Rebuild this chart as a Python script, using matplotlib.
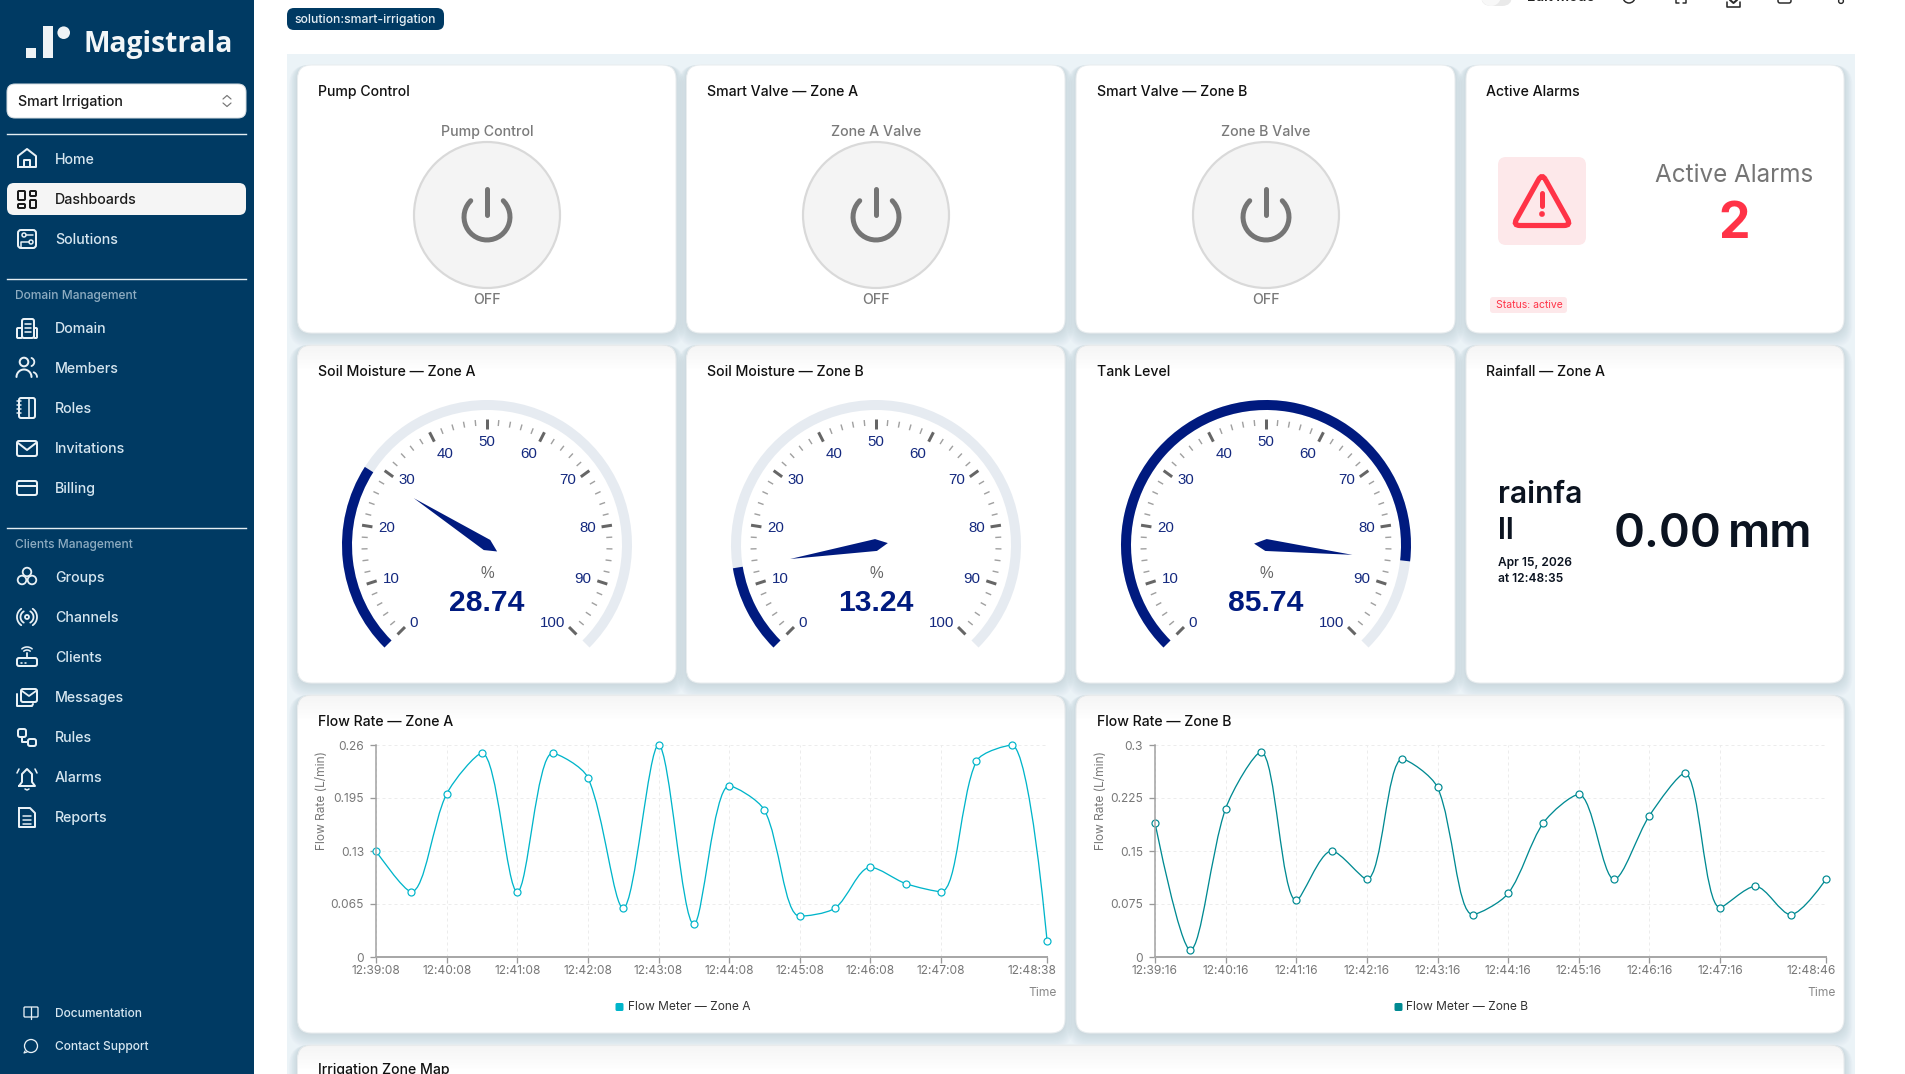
import numpy as np
import matplotlib
matplotlib.use("Agg")
from matplotlib import pyplot as plt
from matplotlib.patches import FancyBboxPatch, Circle, Wedge, Polygon, Rectangle, PathPatch
from matplotlib.path import Path
from matplotlib.transforms import ScaledTranslation

plt.rcParams['font.family'] = ['Inter', 'DejaVu Sans']

W, H = 1905, 1074

# data
flow_a = [0.13, 0.08, 0.20, 0.25, 0.08, 0.25, 0.22, 0.06, 0.26, 0.04,
          0.21, 0.18, 0.05, 0.06, 0.11, 0.09, 0.08, 0.24, 0.26, 0.02]
flow_b = [0.19, 0.01, 0.21, 0.29, 0.08, 0.15, 0.11, 0.28, 0.24, 0.06,
          0.09, 0.19, 0.23, 0.11, 0.20, 0.26, 0.07, 0.10, 0.06, 0.11]
tick_idx = [0, 2, 4, 6, 8, 10, 12, 14, 16, 19]
labels_a = ['12:39:08', '12:40:08', '12:41:08', '12:42:08', '12:43:08',
            '12:44:08', '12:45:08', '12:46:08', '12:47:08', '12:48:38']
labels_b = ['12:39:16', '12:40:16', '12:41:16', '12:42:16', '12:43:16',
            '12:44:16', '12:45:16', '12:46:16', '12:47:16', '12:48:46']
yticks_a = [0, 0.065, 0.13, 0.195, 0.26]
yticks_b = [0, 0.075, 0.15, 0.225, 0.3]
ylabels_a = ['0', '0.065', '0.13', '0.195', '0.26']
ylabels_b = ['0', '0.075', '0.15', '0.225', '0.3']
gauge_titles = ['Soil Moisture — Zone A', 'Soil Moisture — Zone B', 'Tank Level']
gauge_values = [28.74, 13.24, 85.74]
gauge_scale = [0, 10, 20, 30, 40, 50, 60, 70, 80, 90, 100]
switch_titles = ['Pump Control', 'Smart Valve — Zone A', 'Smart Valve — Zone B']
switch_labels = ['Pump Control', 'Zone A Valve', 'Zone B Valve']
nav_items = [('Home', 160), ('Dashboards', 200), ('Solutions', 240),
             ('Domain', 329), ('Members', 369), ('Roles', 409), ('Invitations', 449), ('Billing', 489),
             ('Groups', 578), ('Channels', 618), ('Clients', 658), ('Messages', 698),
             ('Rules', 738), ('Alarms', 778), ('Reports', 818)]

NAVY = '#003a63'
GAUGE = '#001a7f'
GAUGE_TXT = '#14297f'
RED = '#ff3347'
PINK = '#fde8ea'
ICON = '#e9f1f6'
CARD_X = [297.5, 686.5, 1076, 1466]
TITLE_X = [318, 707, 1097, 1486]
CENTERS = [487, 876, 1266]
CARD_W = 379
DY = 0  # shift for the icon being drawn


def pt(px):
    return px * 0.72


fig = plt.figure(figsize=(W / 100, H / 100), dpi=100, facecolor='white')
bg = fig.add_axes([0, 0, 1, 1])
bg.set_xlim(0, W)
bg.set_ylim(H, 0)
bg.axis('off')


def rrect(x, y, w, h, r, fc='none', ec='none', lw=0, z=1, alpha=None):
    p = FancyBboxPatch((x, y + DY), w, h, boxstyle="round,pad=0,rounding_size=%g" % r,
                       fc=fc, ec=ec, lw=pt(lw), zorder=z, alpha=alpha)
    bg.add_patch(p)
    return p


def poly(pts, c=ICON, lw=2, z=5, closed=False):
    xs = [q[0] for q in pts]
    ys = [q[1] + DY for q in pts]
    if closed:
        xs.append(xs[0])
        ys.append(ys[0])
    bg.plot(xs, ys, color=c, lw=pt(lw), zorder=z, solid_capstyle='round', solid_joinstyle='round')


def circ(x, y, r, fc='none', ec=ICON, lw=2, z=5):
    bg.add_patch(Circle((x, y + DY), r, fc=fc, ec=ec, lw=pt(lw), zorder=z))


def arc(x, y, r, a1, a2, c=ICON, lw=2, z=5):
    # angles in screen sense, y axis is flipped
    t = np.radians(np.linspace(a1, a2, 30))
    bg.plot(x + r * np.cos(t), y + DY - r * np.sin(t), color=c, lw=pt(lw), zorder=z, solid_capstyle='round')


def txt(x, y, s, size, c='#111111', ha='left', va='center', weight='normal', family=None, z=6, **kw):
    if family:
        kw['family'] = family
    return bg.text(x, y, s, fontsize=pt(size), color=c, ha=ha, va=va, weight=weight, zorder=z, **kw)


def round_tri(pts, rad, c, lw, z=5):
    # triangle outline with rounded corners
    pts = [np.array(q, float) for q in pts]
    verts, codes = [], []
    for i in range(3):
        p, a, b = pts[i], pts[i - 1], pts[(i + 1) % 3]
        ua = (a - p) / np.hypot(*(a - p))
        ub = (b - p) / np.hypot(*(b - p))
        verts += [p + ua * rad, p, p + ub * rad]
        codes += [Path.MOVETO if i == 0 else Path.LINETO, Path.CURVE3, Path.CURVE3]
    verts.append(verts[0])
    codes.append(Path.LINETO)
    bg.add_patch(PathPatch(Path(verts, codes), fc='none', ec=c, lw=pt(lw), zorder=z))


# ---- sidebar
bg.add_patch(Rectangle((0, 0), 254, H, fc=NAVY, ec='none', zorder=1))
bg.add_patch(Rectangle((26, 47.5), 10, 10.5, fc='#eef3f6', ec='none', zorder=2))
bg.add_patch(Rectangle((43, 26), 10, 32, fc='#eef3f6', ec='none', zorder=2))
bg.add_patch(Circle((63.7, 32.7), 6.3, fc='#eef3f6', ec='none', zorder=2))
txt(84, 52, 'Magistrala', 28.2, c='#f2f6f8', weight='bold', family='Open Sans', va='baseline')

rrect(7, 84, 239, 34, 8, fc='white', ec='#d7dee3', lw=1, z=2)
txt(18, 102, 'Smart Irrigation', 14.2, c='#1a1a1a', weight='medium')
poly([(223, 99), (227, 95.5), (231, 99)], c='#777777', lw=1.2)
poly([(223, 103), (227, 106.5), (231, 103)], c='#777777', lw=1.2)
for ly in [134, 279, 528]:
    bg.plot([7, 246], [ly, ly], color='#e4edf2', lw=pt(1.4), zorder=2)

rrect(7, 183, 239, 32, 7, fc='#f5f5f5', z=2)
for name, y in nav_items:
    txt(55, y, name, 14.2, c='#1c1c1c' if name == 'Dashboards' else '#d6e6f0', weight='medium')
txt(15, 296, 'Domain Management', 12, c='#8eacc1', weight='medium')
txt(15, 545, 'Clients Management', 12, c='#8eacc1', weight='medium')
txt(55, 1014, 'Documentation', 12, c='#d6e6f0', weight='medium')
txt(55, 1047, 'Contact Support', 12, c='#d6e6f0', weight='medium')

# icons, one by one
DY = 5
poly([(18, 162), (18, 151), (27, 144), (36, 151), (36, 162)], closed=True)
poly([(24, 162), (24, 155), (30, 155), (30, 162)])
DY = 7
for r in [(18, 184, 7, 9), (30, 184, 6, 5), (18, 197, 7, 4), (30, 193, 6, 8)]:
    rrect(r[0], r[1], r[2], r[3], 1, ec='#1a1a1a', lw=2, z=5)
DY = 8
rrect(18, 222, 18, 18, 3, ec=ICON, lw=2, z=5)
circ(24, 227, 2, lw=1.5)
circ(31, 234, 2, lw=1.5)
poly([(26, 227), (33, 227)], lw=1.5)
poly([(21, 239), (21, 234), (29, 234)], lw=1.5)
# domain
DY = 11
rrect(22, 308, 12, 19, 2, ec=ICON, lw=2, z=5)
rrect(17, 317, 5, 10, 1, ec=ICON, lw=2, z=5)
rrect(34, 317, 3, 10, 1, ec=ICON, lw=2, z=5)
for yy in [313, 317, 321]:
    poly([(25, yy), (31, yy)], lw=1.6)
# members
DY = 12
circ(24, 350, 4.3)
arc(30, 350, 4.3, -70, 70, lw=1.8)
arc(24, 365, 7.5, 0, 180)
arc(32, 365, 5, 0, 70, lw=1.8)
# roles
DY = 13
rrect(19, 385, 16, 20, 2, ec=ICON, lw=2, z=5)
poly([(29, 385), (29, 405)], lw=1.6)
for yy in [388, 392, 396, 400]:
    poly([(17, yy), (21, yy)], lw=1.5)
# invitations
DY = 15
rrect(17, 426, 20, 15, 2, ec=ICON, lw=2, z=5)
poly([(18, 428), (27, 435), (36, 428)])
# billing
DY = 16
rrect(17, 465, 20, 14, 2, ec=ICON, lw=2, z=5)
poly([(17, 470), (37, 470)])
# groups
DY = 5
circ(27, 567, 4.3, lw=1.8)
circ(22, 575, 4.3, lw=1.8)
circ(32, 575, 4.3, lw=1.8)
# channels
DY = 8
circ(27, 609, 2, lw=1.8)
arc(27, 609, 6.5, 120, 240, lw=1.8)
arc(27, 609, 6.5, -60, 60, lw=1.8)
arc(27, 609, 10, 125, 235, lw=1.8)
arc(27, 609, 10, -55, 55, lw=1.8)
# clients
DY = 11
rrect(17, 647, 20, 8, 2, ec=ICON, lw=2, z=5)
poly([(27, 647), (27, 642)], lw=1.8)
arc(27, 644, 5, 50, 130, lw=1.6)
arc(27, 644, 8, 50, 130, lw=1.6)
poly([(21, 651.5), (21.5, 651.5)], lw=1.6)
poly([(25, 651.5), (25.5, 651.5)], lw=1.6)
# messages
DY = 14
rrect(21, 675, 16, 13, 2, ec=ICON, lw=2, z=5)
poly([(22, 677), (29, 682), (36, 677)], lw=1.8)
poly([(17, 680), (17, 692), (32, 692), (33, 690)], lw=2)
# rules
DY = 17
rrect(18, 712, 8, 8, 2, ec=ICON, lw=2, z=5)
rrect(28, 722, 8, 7, 2, ec=ICON, lw=2, z=5)
poly([(22, 720), (22, 725), (28, 725)], lw=2)
# alarms
DY = 20
poly([(19, 766), (22, 762), (22, 754), (27, 749), (32, 754), (32, 762), (35, 766)], lw=2, closed=True)
poly([(25, 769), (27, 770), (29, 769)], lw=1.6)
poly([(17, 753), (19, 749)], lw=1.6)
poly([(37, 753), (35, 749)], lw=1.6)
# reports
DY = 23
poly([(19, 785), (30, 785), (35, 790), (35, 804), (19, 804)], closed=True)
for yy in [793, 797, 801]:
    poly([(23, yy), (31, yy)], lw=1.5)
# docs and support
DY = 36
rrect(24, 971, 14, 10, 1, ec=ICON, lw=1.3, z=5)
poly([(31, 971), (31, 983)], lw=1.3)
DY = 39
circ(31, 1007, 6.5, lw=1.3)
poly([(25, 1012), (24, 1014), (27, 1013)], lw=1.2)
DY = 0

# ---- top bar
rrect(287, 8, 157, 22, 7, fc=NAVY, z=2)
txt(365.5, 20, 'solution:smart-irrigation', 12.2, c='#e6eff5', ha='center', weight='medium')
rrect(1481, -14, 31, 20, 10, fc='#e9e9e9', z=2)
circ(1491, -4, 10, fc='#f8f8f8', ec='none', lw=0)
txt(1527, -3, 'Edit Mode', 14, c='#222222', weight='semibold')
DK = '#2a2a2a'
circ(1629, -3, 6, ec=DK, lw=1.5)
poly([(1676, 0), (1676, 3), (1679, 3)], c=DK, lw=1.5)
poly([(1686, 0), (1686, 3), (1683, 3)], c=DK, lw=1.5)
poly([(1727, 2), (1727, 7), (1740, 7), (1740, 2)], c=DK, lw=1.6)
poly([(1730, 0), (1733.5, 3), (1737, 0)], c=DK, lw=2)
rrect(1778, -10, 13, 13, 2, ec=DK, lw=1.5, z=5)
circ(1841, 1, 2.4, ec=DK, lw=1.4)
bg.plot([1904.5, 1904.5], [0, H], color='#c9c9c9', lw=pt(1), zorder=2)

# ---- panel and cards
bg.add_patch(Rectangle((287, 54), 1568, H - 54, fc='#ebf3f7', ec='none', zorder=1))


def card(x, y, w, h, fade=True):
    for k in range(12):
        s = 1 + k
        rrect(x - s * 0.7, y, w + 1.4 * s, h + s * 1.2, 14 + s * 0.5, fc='#5a6f7d', z=1.5, alpha=0.014)
    c = rrect(x, y, w, h, 14, fc='white', ec='#e9edef', lw=1, z=2)
    if fade:
        # grey fade on the top edge of lower rows
        for k in range(16):
            s = bg.add_patch(Rectangle((x, y + k * 1.5), w, 1.5, fc='#707070', ec='none', zorder=2.1,
                                       alpha=0.07 * (1 - k / 16.0)))
            s.set_clip_path(c)
    return c


for x in CARD_X:
    card(x, 65, CARD_W - (1 if x == 1466 else 0) - (0.5 if x < 1000 else 0), 268, fade=False)
for x in CARD_X:
    card(x, 345, CARD_W - (1 if x == 1466 else 0) - (0.5 if x < 1000 else 0), 338)
card(297.5, 695, 767.5, 338)
card(1076, 695, 768, 338)
card(297.5, 1045, 1546.5, 60)

# ---- switch cards
for i in range(3):
    cx = CENTERS[i]
    txt(TITLE_X[i], 92, switch_titles[i], 14.1, weight='medium')
    txt(cx, 132, switch_labels[i], 14.2, c='#7a7a7a', ha='center', weight='medium')
    txt(cx, 300, 'OFF', 14.2, c='#7a7a7a', ha='center', weight='medium')
    circ(cx, 215, 73, fc='#f4f4f4', ec='#d9d9d9', lw=2.2, z=3)
    arc(cx, 217, 23, 135, 405, c='#757575', lw=5)
    poly([(cx, 189), (cx, 215)], c='#757575', lw=5)

# ---- alarm card
txt(TITLE_X[3], 92, 'Active Alarms', 14.1, weight='medium')
rrect(1498, 157, 88, 88, 8, fc=PINK, z=3)
round_tri([(1542, 173.5), (1513, 225.5), (1571, 225.5)], 7, RED, 5.2)
poly([(1542, 193), (1542, 206)], c=RED, lw=5)
circ(1542, 214, 2.6, fc=RED, ec=RED, lw=0.5)
txt(1734, 175, 'Active Alarms', 24.2, c='#757575', ha='center')
txt(1734, 238, '2', 50, c=RED, ha='center', weight='bold', va='baseline')
rrect(1490, 297, 77, 16, 3, fc=PINK, z=3)
txt(1496, 305.5, 'Status: active', 10.4, c=RED)

# ---- rainfall card
txt(TITLE_X[3], 372, 'Rainfall — Zone A', 14.1, weight='medium')
txt(1498, 503, 'rainfa', 30, c='#0b1320', weight='semibold', va='baseline')
txt(1498, 539, 'll', 30, c='#0b1320', weight='semibold', va='baseline')
txt(1498, 566, 'Apr 15, 2026', 12, c='#0b1320', weight='semibold', va='baseline')
txt(1498, 582, 'at 12:48:35', 12, c='#0b1320', weight='semibold', va='baseline')
txt(1614, 547, '0.00', 47, c='#0b1320', weight='semibold', va='baseline')
txt(1728, 547, 'mm', 47, c='#0b1320', weight='semibold', va='baseline')


# ---- gauges
def gauge(cx, cy, title, title_x, value):
    txt(title_x, 372, title, 14.1, weight='medium')
    ax = fig.add_axes([(cx - 150) / W, 1 - (cy + 150) / H, 300 / W, 300 / H], zorder=3)
    ax.set_xlim(-150, 150)
    ax.set_ylim(-150, 150)
    ax.axis('off')
    ang = 225 - 2.7 * value
    ax.add_patch(Wedge((0, 0), 145, -45, 225, width=10, fc='#e6ebf1', ec='none'))
    ax.add_patch(Wedge((0, 0), 145, ang, 225, width=10, fc=GAUGE, ec='none'))
    for v in range(0, 101, 2):
        a = np.radians(225 - 2.7 * v)
        if v % 10 == 0:
            r0, r1, c, w = 116, 126.5, '#666666', 3
        else:
            r0, r1, c, w = 119.5, 125.5, '#a0a0a0', 1.4
        ax.plot([r0 * np.cos(a), r1 * np.cos(a)], [r0 * np.sin(a), r1 * np.sin(a)],
                color=c, lw=pt(w), solid_capstyle='butt')
    for v in gauge_scale:
        a = np.radians(225 - 2.7 * v)
        cs, sn = np.cos(a), np.sin(a)
        ha = 'left' if cs < -0.4 else ('right' if cs > 0.4 else 'center')
        va = 'top' if sn > 0.8 else 'center'
        ax.text(110 * cs, 110 * sn, str(v), fontsize=pt(15), color=GAUGE_TXT, ha=ha, va=va,
                family='Liberation Sans')
    a = np.radians(ang)
    u = np.array([np.cos(a), np.sin(a)])
    n = np.array([-u[1], u[0]])
    ax.add_patch(Polygon([87 * u, 6 * n, -12 * u, -6 * n], closed=True, fc=GAUGE, ec='none'))
    ax.text(0, -28, '%', fontsize=pt(15.5), color='#666666', ha='center', va='center', family='Liberation Sans')
    ax.text(0, -58, '%.2f' % value, fontsize=pt(30), color=GAUGE, ha='center', va='center',
            weight='bold', family='Liberation Sans')


for i in range(3):
    gauge(CENTERS[i], 545, gauge_titles[i], TITLE_X[i], gauge_values[i])


# ---- line charts
def smooth_path(ax, xs, ys, smooth=0.3):
    # same bezier scheme the original chart uses, done in screen space
    p = ax.transData.transform(np.column_stack([xs, ys]))
    n = len(p)
    verts = [p[0]]
    codes = [Path.MOVETO]
    cp0 = p[0].copy()
    for i in range(1, n):
        cur = p[i]
        if i == n - 1:
            cp1 = cur.copy()
            nxt_cp = cur
        else:
            prv, nxt = p[i - 1], p[i + 1]
            l0 = np.hypot(*(cur - prv))
            l1 = np.hypot(*(nxt - cur))
            ratio = l1 / (l0 + l1)
            nxt_cp = cur + (nxt - prv) * smooth * ratio
            nxt_cp = np.clip(nxt_cp, np.minimum(cur, nxt), np.maximum(cur, nxt))
            cp1 = cur - (nxt_cp - cur) * l0 / l1
            cp1 = np.clip(cp1, np.minimum(cur, prv), np.maximum(cur, prv))
            nxt_cp = cur + (cur - cp1) * l1 / l0
        verts += [cp0, cp1, cur]
        codes += [Path.CURVE4, Path.CURVE4, Path.CURVE4]
        cp0 = nxt_cp
    verts = ax.transData.inverted().transform(np.array(verts))
    return Path(verts, codes)


def flow_chart(x0, x1, title, title_x, values, ticklabs, yticks, ylabs, color, legend):
    y0, y1 = 745, 957
    ax = fig.add_axes([x0 / W, 1 - y1 / H, (x1 - x0) / W, (y1 - y0) / H], zorder=3)
    ax.patch.set_alpha(0)
    xs = np.arange(len(values))
    ax.set_xlim(0, 19)
    ax.set_ylim(0, yticks[-1])
    ax.set_xticks(tick_idx)
    ax.set_xticklabels(ticklabs)
    ax.set_yticks(yticks)
    ax.set_yticklabels(ylabs)
    ax.tick_params(axis='both', labelsize=pt(12), labelcolor='#777777', color='#999999',
                   width=pt(1.3), length=pt(6), pad=pt(2))
    ax.tick_params(axis='y', pad=pt(6))
    # last label is pushed back inside the chart
    last = ax.get_xticklabels()[-1]
    last.set_transform(last.get_transform() + ScaledTranslation(-15 / 100.0, 0, fig.dpi_scale_trans))
    ax.grid(True, color='#ececec', lw=pt(1), linestyle=(0, (3, 3)))
    ax.set_axisbelow(True)
    for s in ['top', 'right']:
        ax.spines[s].set_visible(False)
    ax.spines['left'].set_color('#a0a0a0')
    ax.spines['left'].set_linewidth(pt(1.5))
    ax.spines['bottom'].set_color('#a8a8a8')
    ax.spines['bottom'].set_linewidth(pt(2))
    ax.add_patch(PathPatch(smooth_path(ax, xs, values), fc='none', ec=color, lw=pt(1.3), clip_on=False))
    ax.plot(xs, values, ls='none', marker='o', ms=pt(7), mfc='white', mec=color, mew=pt(1.2), clip_on=False)
    txt(title_x, 722, title, 14.1, weight='medium')
    txt(x0 - 54, 801, 'Flow Rate (L/min)', 12, c='#777777', ha='center', rotation=90)
    txt(x1 + 10, 993, 'Time', 12, c='#888888', ha='right')
    mid = (x0 + x1) / 2.0
    rrect(mid - 96, 1003, 8, 8, 1.5, fc=color, z=5)
    txt(mid - 84, 1007, legend, 12, c='#333333')


flow_chart(376, 1047, 'Flow Rate — Zone A', 318, flow_a, labels_a, yticks_a, ylabels_a, '#00b5ca', 'Flow Meter — Zone A')
flow_chart(1155, 1826, 'Flow Rate — Zone B', 1097, flow_b, labels_b, yticks_b, ylabels_b, '#008a92', 'Flow Meter — Zone B')

txt(318, 1070, 'Irrigation Zone Map', 14.1, weight='medium')

fig.savefig('out.png', dpi=100, facecolor='white')
